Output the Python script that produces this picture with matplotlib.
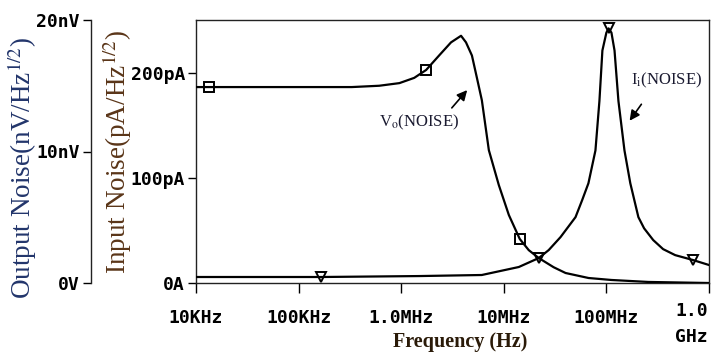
import matplotlib
matplotlib.use("Agg")
import matplotlib.pyplot as plt
from matplotlib.ticker import FixedLocator, NullLocator

plt.rcParams["mathtext.fontset"] = "stix"

# frequency axis ticks
freq_ticks = [1e4, 1e5, 1e6, 1e7, 1e8, 1e9]
freq_labels = ["10KHz", "100KHz", "1.0MHz", "10MHz", "100MHz", ""]

# output noise Vo(NOISE), nV/sqrt(Hz)
vo_freq = [1e4, 1.34e4, 3.3e5, 6.1e5, 9.6e5, 1.34e6, 1.75e6, 2.34e6, 3.06e6,
           3.83e6, 4.28e6, 4.89e6, 5.47e6, 6.11e6, 7.15e6, 8.94e6, 1.12e7,
           1.43e7, 1.75e7, 2.19e7, 3.06e7, 4.0e7, 6.7e7, 1.12e8, 2.56e8, 1e9]
vo_nv = [14.9, 14.9, 14.9, 15.0, 15.2, 15.6, 16.2, 17.3, 18.3,
         18.8, 18.3, 17.3, 15.6, 13.9, 10.1, 7.45, 5.17,
         3.35, 2.5, 1.9, 1.2, 0.76, 0.38, 0.23, 0.08, 0.0]
vo_marks = [1, 6, 17]

# input noise Ii(NOISE), pA/sqrt(Hz)
ii_freq = [1e4, 1.67e5, 1.5e6, 6.1e6, 1.4e7, 2.19e7, 2.74e7, 3.57e7, 5.0e7,
           5.8e7, 6.68e7, 7.82e7, 8.55e7, 9.14e7, 1.0e8, 1.05e8, 1.12e8,
           1.2e8, 1.31e8, 1.5e8, 1.71e8, 2.05e8, 2.33e8, 2.86e8, 3.57e8,
           4.68e8, 7.0e8, 1e9]
ii_pa = [5.7, 5.7, 6.6, 7.6, 15.2, 23.7, 31.3, 43.6, 62.6,
         78.7, 94.8, 126, 173, 221, 238, 242, 238,
         221, 173, 126, 94.8, 62.6, 52.0, 40.8, 32.2,
         26.5, 21.8, 17.1]
ii_marks = [1, 5, 15, 26]

pa_ticks = [0, 100, 200]
pa_labels = ["0A", "100pA", "200pA"]
nv_ticks = [0, 10, 20]
nv_labels = ["0V", "10nV", "20nV"]

tick_font = dict(family="DejaVu Sans Mono", weight="bold", size=13)
serif = ["Liberation Serif", "DejaVu Serif"]

fig = plt.figure(figsize=(7.11, 3.54), dpi=100)
ax = fig.add_axes([196 / 711, 1 - 283 / 354, 513 / 711, 263 / 354])
ax2 = ax.twinx()

ax.plot(ii_freq, ii_pa, color="black", lw=1.6, marker="v", ms=7,
        mfc="none", mec="black", mew=1.4, markevery=ii_marks, zorder=3)
ax2.plot(vo_freq, vo_nv, color="black", lw=1.6, marker="s", ms=7,
         mfc="none", mec="black", mew=1.4, markevery=vo_marks, zorder=3)

ax.set_xscale("log")
ax.set_xlim(1e4, 1e9)
ax.set_ylim(0, 250)
ax2.set_ylim(0, 20)

ax.xaxis.set_major_locator(FixedLocator(freq_ticks))
ax.xaxis.set_minor_locator(NullLocator())
ax.set_xticklabels(freq_labels, **tick_font)
ax.set_yticks(pa_ticks)
ax.set_yticklabels(pa_labels, **tick_font)
ax.tick_params(axis="x", direction="out", length=7, width=1, pad=12)
ax.tick_params(axis="y", direction="out", length=6, width=1, pad=2)
for s in ax.spines.values():
    s.set_linewidth(1.0)
    s.set_color("#222222")

ax2.yaxis.set_ticks_position("left")
ax2.spines["left"].set_position(("outward", 105 * 72 / 100))
for side in ["right", "top", "bottom"]:
    ax2.spines[side].set_visible(False)
ax2.spines["left"].set_linewidth(1.0)
ax2.spines["left"].set_color("#222222")
ax2.set_yticks(nv_ticks)
ax2.set_yticklabels(nv_labels, **tick_font)
ax2.tick_params(axis="y", direction="out", length=6, width=1, pad=2)

ax.annotate("1.0\nGHz", xy=(1, 0), xycoords="axes fraction",
            xytext=(-34, -19), textcoords="offset pixels",
            ha="left", va="top", linespacing=1.6, **tick_font)

fig.text(460 / 711, 1 - 342 / 354, "Frequency (Hz)", family=serif,
         weight="bold", size=14.5, color="#2a1a08", ha="center", va="center")
fig.text(22 / 711, 1 - 168 / 354, "Output Noise(nV/Hz$^{1/2}$)", family=serif,
         size=19.5, color="#22356b", rotation=90, ha="center", va="center")
fig.text(117 / 711, 1 - 152 / 354, "Input Noise(pA/Hz$^{1/2}$)", family=serif,
         size=19.5, color="#5a3518", rotation=90, ha="center", va="center")

fig.text(419 / 711, 1 - 122 / 354, r"V$_{\rm o}$(NOISE)", family=serif,
         size=12, color="#1a1a30", ha="center", va="center")
fig.text(667 / 711, 1 - 80 / 354, r"I$_{\rm i}$(NOISE)", family=serif,
         size=12, color="#1a1a30", ha="center", va="center")

arrow = dict(arrowstyle="-|>,head_length=0.6,head_width=0.3", color="black", lw=1.2)
ax.annotate("", xy=(469, 354 - 88), xycoords="figure pixels",
            xytext=(450, 354 - 110), textcoords="figure pixels", arrowprops=arrow)
ax.annotate("", xy=(628, 354 - 123), xycoords="figure pixels",
            xytext=(643, 354 - 102), textcoords="figure pixels", arrowprops=arrow)

fig.savefig("out.png", dpi=100)
